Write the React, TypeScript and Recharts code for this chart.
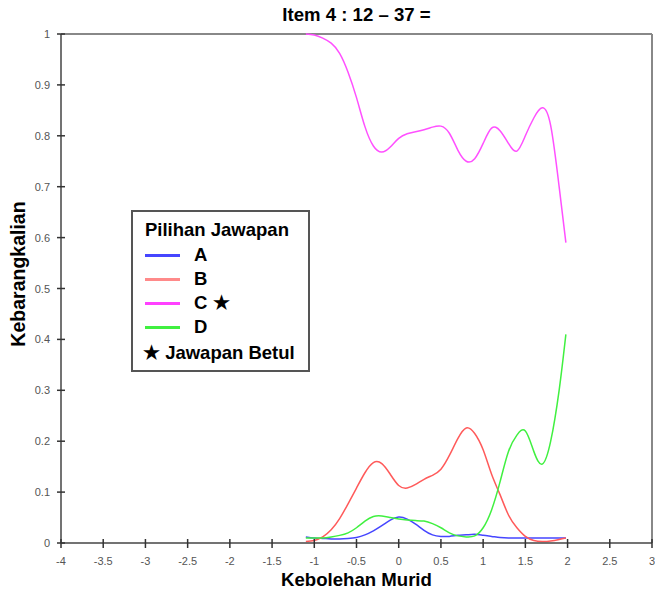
import React from "react";
import { LineChart, Line, XAxis, YAxis, ReferenceLine } from "recharts";

const abilityX = [-1.1, -1.0, -0.9, -0.8, -0.7, -0.6, -0.5, -0.4, -0.3, -0.2, -0.1, 0.0, 0.1, 0.2, 0.3, 0.4, 0.5, 0.6, 0.7, 0.8, 0.9, 1.0, 1.1, 1.2, 1.3, 1.4, 1.5, 1.6, 1.7, 1.8, 1.9, 1.98];

const optionA = [0.012, 0.01, 0.009, 0.008, 0.008, 0.009, 0.011, 0.016, 0.024, 0.034, 0.045, 0.051, 0.047, 0.037, 0.025, 0.016, 0.013, 0.013, 0.015, 0.016, 0.017, 0.015, 0.013, 0.011, 0.01, 0.01, 0.01, 0.01, 0.01, 0.01, 0.01, 0.01];
const optionB = [0.003, 0.005, 0.012, 0.026, 0.048, 0.077, 0.108, 0.138, 0.158, 0.156, 0.135, 0.113, 0.108, 0.115, 0.125, 0.133, 0.145, 0.172, 0.205, 0.226, 0.215, 0.183, 0.135, 0.095, 0.055, 0.03, 0.013, 0.005, 0.003, 0.004, 0.007, 0.01];
const optionC = [1.0, 0.998, 0.992, 0.982, 0.962, 0.925, 0.875, 0.818, 0.78, 0.768, 0.778, 0.795, 0.804, 0.808, 0.812, 0.817, 0.819, 0.805, 0.772, 0.75, 0.755, 0.785, 0.815, 0.81, 0.785, 0.77, 0.8, 0.835, 0.855, 0.82, 0.7, 0.59];
const optionD = [0.01, 0.01, 0.01, 0.012, 0.015, 0.02, 0.03, 0.043, 0.052, 0.053, 0.05, 0.047, 0.045, 0.044, 0.043, 0.038, 0.03, 0.02, 0.014, 0.012, 0.014, 0.03, 0.065, 0.12, 0.18, 0.212, 0.22, 0.18, 0.155, 0.2, 0.3, 0.41];

const xTicks = [-4, -3.5, -3, -2.5, -2, -1.5, -1, -0.5, 0, 0.5, 1, 1.5, 2, 2.5, 3];
const yTicks = [0, 0.1, 0.2, 0.3, 0.4, 0.5, 0.6, 0.7, 0.8, 0.9, 1];

const seriesNames = ["A", "B", "C", "D"];
const correctAnswer = "C";
const titleText = "Item 4 : 12 \u2013 37 =";
const xTitle = "Kebolehan Murid";
const yTitle = "Kebarangkalian";
const legendTitle = "Pilihan Jawapan";
const legendNote = "Jawapan Betul";

const lineColors: Record<string, string> = { A: "#4646ff", B: "#ff5a5a", C: "#ff50ff", D: "#40f040" };
const legendColors: Record<string, string> = { A: "#4646ff", B: "#ff8a8a", C: "#ff40ff", D: "#40f040" };

const data = abilityX.map((x, i) => ({ x, A: optionA[i], B: optionB[i], C: optionC[i], D: optionD[i] }));

const FONT = "'Liberation Sans', Arial, sans-serif";

const XTick = (props: any) => {
  const { x, y, payload } = props;
  return (
    <g>
      <line x1={x} x2={x} y1={y - 4} y2={y + 5} stroke="#333" strokeWidth={1.5} />
      <text x={x} y={y + 22} textAnchor="middle" fontSize={11} fill="#555" fontFamily={FONT}>
        {String(payload.value)}
      </text>
    </g>
  );
};

const YTick = (props: any) => {
  const { x, y, payload } = props;
  return (
    <g>
      <line x1={x - 4} x2={x + 4} y1={y} y2={y} stroke="#333" strokeWidth={1.5} />
      <text x={x - 11} y={y + 4} textAnchor="end" fontSize={11} fill="#555" fontFamily={FONT}>
        {String(payload.value)}
      </text>
    </g>
  );
};

export default function App() {
  return (
    <div style={{ position: "absolute", left: 0, top: 0, width: 655, height: 596, background: "#fff", fontFamily: FONT }}>
      <LineChart width={655} height={596} data={data} margin={{ top: 34, right: 3, bottom: 23, left: 21 }}>
        <XAxis
          type="number"
          dataKey="x"
          domain={[-4, 3]}
          ticks={xTicks}
          interval={0}
          height={30}
          tickSize={0}
          tickMargin={0}
          tickLine={false}
          tick={<XTick />}
          axisLine={{ stroke: "#444", strokeWidth: 1.5 }}
          allowDataOverflow
        />
        <YAxis
          type="number"
          domain={[0, 1]}
          ticks={yTicks}
          interval={0}
          width={40}
          tickSize={0}
          tickMargin={0}
          tickLine={false}
          tick={<YTick />}
          axisLine={{ stroke: "#444", strokeWidth: 1.5 }}
        />
        <ReferenceLine y={1} stroke="#888" strokeWidth={2} />
        <ReferenceLine x={3} stroke="#888" strokeWidth={2} />
        {seriesNames.map((s) => (
          <Line
            key={s}
            type="natural"
            dataKey={s}
            stroke={lineColors[s]}
            strokeWidth={1.5}
            dot={false}
            isAnimationActive={false}
          />
        ))}
      </LineChart>

      <div style={{ position: "absolute", left: 0, width: 713, top: 4, textAlign: "center", fontWeight: "bold", fontSize: 18.6, color: "#000", whiteSpace: "nowrap" }}>
        {titleText}
      </div>
      <div style={{ position: "absolute", left: 0, width: 713, top: 569, textAlign: "center", fontWeight: "bold", fontSize: 18.6, color: "#000", whiteSpace: "nowrap" }}>
        {xTitle}
      </div>
      <div
        style={{
          position: "absolute",
          left: 17.5 - 100,
          top: 274 - 11,
          width: 200,
          height: 22,
          lineHeight: "22px",
          textAlign: "center",
          fontWeight: "bold",
          fontSize: 19.5,
          color: "#000",
          transform: "rotate(-90deg)",
          whiteSpace: "nowrap",
        }}
      >
        {yTitle}
      </div>

      <div
        style={{
          position: "absolute",
          left: 131,
          top: 210,
          width: 179,
          height: 162,
          boxSizing: "border-box",
          border: "2px solid #555",
          background: "#fff",
          fontWeight: "bold",
          fontSize: 18.5,
          color: "#000",
        }}
      >
        <div style={{ position: "absolute", left: 12, top: 7, whiteSpace: "nowrap" }}>{legendTitle}</div>
        {seriesNames.map((s, i) => (
          <div key={s} style={{ position: "absolute", left: 12, top: 32 + i * 24, height: 22, width: 160 }}>
            <div style={{ position: "absolute", left: 0, top: 10, width: 35, height: 3, background: legendColors[s] }} />
            <div style={{ position: "absolute", left: 49, top: 0, lineHeight: "22px", whiteSpace: "nowrap" }}>
              {s}
              {s === correctAnswer ? " \u2605" : ""}
            </div>
          </div>
        ))}
        <div style={{ position: "absolute", left: 10, top: 130, lineHeight: "22px", whiteSpace: "nowrap" }}>
          {"\u2605 " + legendNote}
        </div>
      </div>
    </div>
  );
}
